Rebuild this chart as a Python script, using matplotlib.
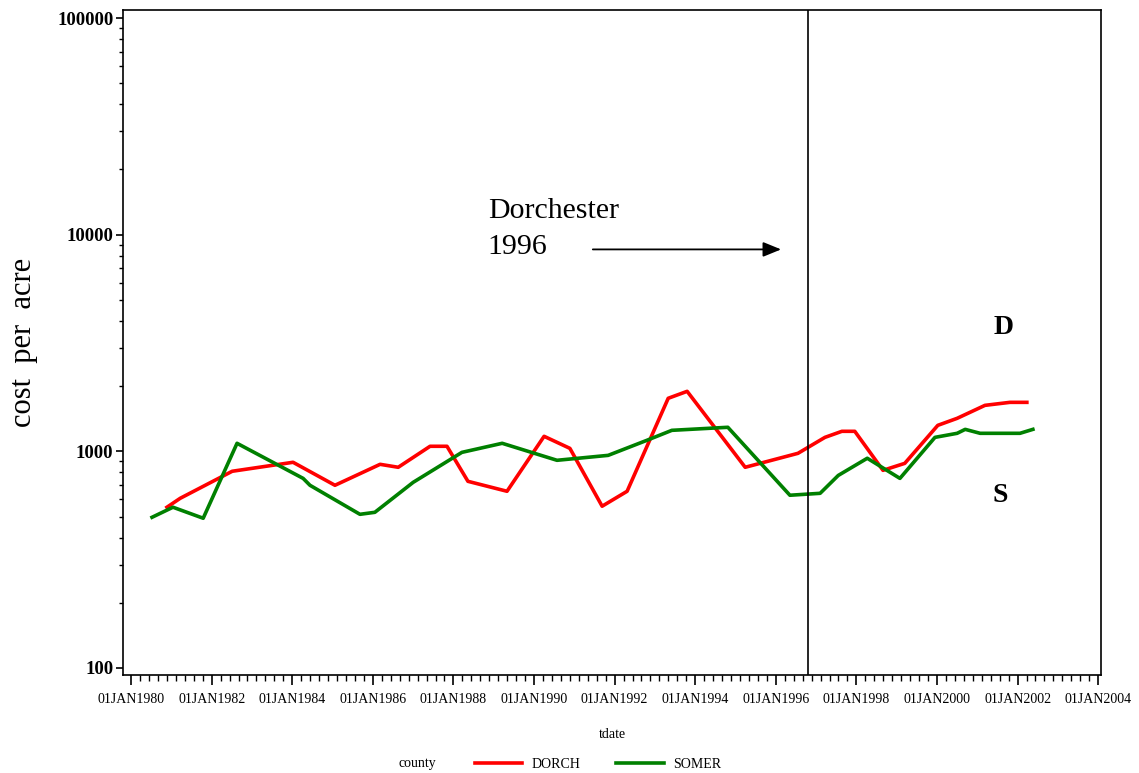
import numpy as np
import matplotlib
matplotlib.use('Agg')
import matplotlib.pyplot as plt
from matplotlib.ticker import FixedLocator, LogLocator, NullFormatter
from matplotlib.lines import Line2D

plt.rcParams['font.family'] = ['Liberation Serif', 'DejaVu Serif']

# decimal years and cost per acre
DORCH_DATE = [1980.89, 1981.22, 1982.51, 1984.02, 1985.06, 1986.18, 1986.63, 1987.42,
              1987.84, 1988.36, 1989.33, 1990.25, 1990.89, 1991.69, 1992.31, 1993.33,
              1993.80, 1995.24, 1996.55, 1997.22, 1997.64, 1997.96, 1998.66, 1999.20,
              2000.02, 2000.50, 2001.19, 2001.81, 2002.23]
DORCH_COST = [552, 607, 809, 890, 697, 871, 844, 1055,
              1055, 727, 654, 1173, 1032, 558, 654, 1757,
              1892, 844, 979, 1160, 1237, 1237, 817, 880,
              1318, 1420, 1630, 1683, 1683]

SOMER_DATE = [1980.52, 1981.04, 1981.79, 1982.63, 1984.27, 1984.44, 1985.68, 1986.05,
              1987.00, 1988.21, 1989.21, 1990.57, 1991.84, 1992.80, 1993.42, 1994.81,
              1996.35, 1997.10, 1997.55, 1998.27, 1999.08, 1999.95, 2000.50, 2000.70,
              2001.07, 2002.06, 2002.38]
SOMER_COST = [496, 552, 491, 1089, 750, 697, 512, 523,
              719, 989, 1089, 909, 958, 1124, 1250, 1291,
              627, 640, 774, 929, 750, 1160, 1211, 1263,
              1211, 1211, 1263]

X_TICKS = list(range(1980, 2005, 2))
Y_TICKS = [100, 1000, 10000, 100000]
EVENT_DATE = 1996.80

fig = plt.figure(figsize=(11.39, 7.73), dpi=100)
ax = fig.add_axes([123 / 1139, 98 / 773, 978 / 1139, 665 / 773])

ax.plot(DORCH_DATE, DORCH_COST, color='#ff0000', lw=2.6, label='DORCH')
ax.plot(SOMER_DATE, SOMER_COST, color='#008000', lw=2.6, label='SOMER')
ax.axvline(EVENT_DATE, color='black', lw=1.2)

ax.set_yscale('log')
ax.set_xlim(1979.80, 2004.07)
ax.set_ylim(92.8, 108900)

ax.xaxis.set_major_locator(FixedLocator(X_TICKS))
ax.set_xticklabels(['01JAN%d' % y for y in X_TICKS], fontsize=10)
minors = []
for y in X_TICKS[:-1]:
    minors += list(np.linspace(y, y + 2, 10)[1:-1])
ax.xaxis.set_minor_locator(FixedLocator(minors))

ax.yaxis.set_major_locator(FixedLocator(Y_TICKS))
ax.set_yticklabels([str(v) for v in Y_TICKS], fontsize=13.5, fontweight='bold')
ax.yaxis.set_minor_locator(LogLocator(base=10, subs=np.arange(2, 10)))
ax.yaxis.set_minor_formatter(NullFormatter())

ax.tick_params(axis='x', which='major', direction='out', length=7, width=1.2, pad=6)
ax.tick_params(axis='x', which='minor', direction='out', length=4, width=1.0)
ax.tick_params(axis='y', which='major', direction='out', length=5, width=1.2, pad=2)
ax.tick_params(axis='y', which='minor', direction='out', length=3, width=1.0)
for s in ax.spines.values():
    s.set_linewidth(1.2)

ax.set_ylabel('cost  per  acre', fontsize=22, labelpad=14)
ax.set_xlabel('tdate', fontsize=10, labelpad=16)

ax.text(1988.85, 11900, 'Dorchester', fontsize=21.5, va='baseline')
ax.text(1988.85, 8100, '1996', fontsize=21.5, va='baseline')
ax.annotate('', xy=(1996.2, 8550), xytext=(1991.39, 8550),
            arrowprops=dict(arrowstyle='-|>,head_length=1.1,head_width=0.45',
                            color='black', lw=1.3))
ax.text(2001.64, 3735, 'D', fontsize=20, fontweight='bold', ha='center', va='center')
ax.text(2001.56, 627, 'S', fontsize=20, fontweight='bold', ha='center', va='center')

fig.text(417 / 1139, 1 - 764 / 773, 'county', fontsize=10, ha='center', va='center')
handles = [Line2D([], [], color='#ff0000', lw=2.6), Line2D([], [], color='#008000', lw=2.6)]
fig.legend(handles, ['DORCH', 'SOMER'], loc='center left',
           bbox_to_anchor=(462 / 1139, 1 - 764 / 773), ncol=2, frameon=False,
           fontsize=10, handlelength=3.4, columnspacing=2.6, handletextpad=0.7)

fig.savefig('out.png', dpi=100)
